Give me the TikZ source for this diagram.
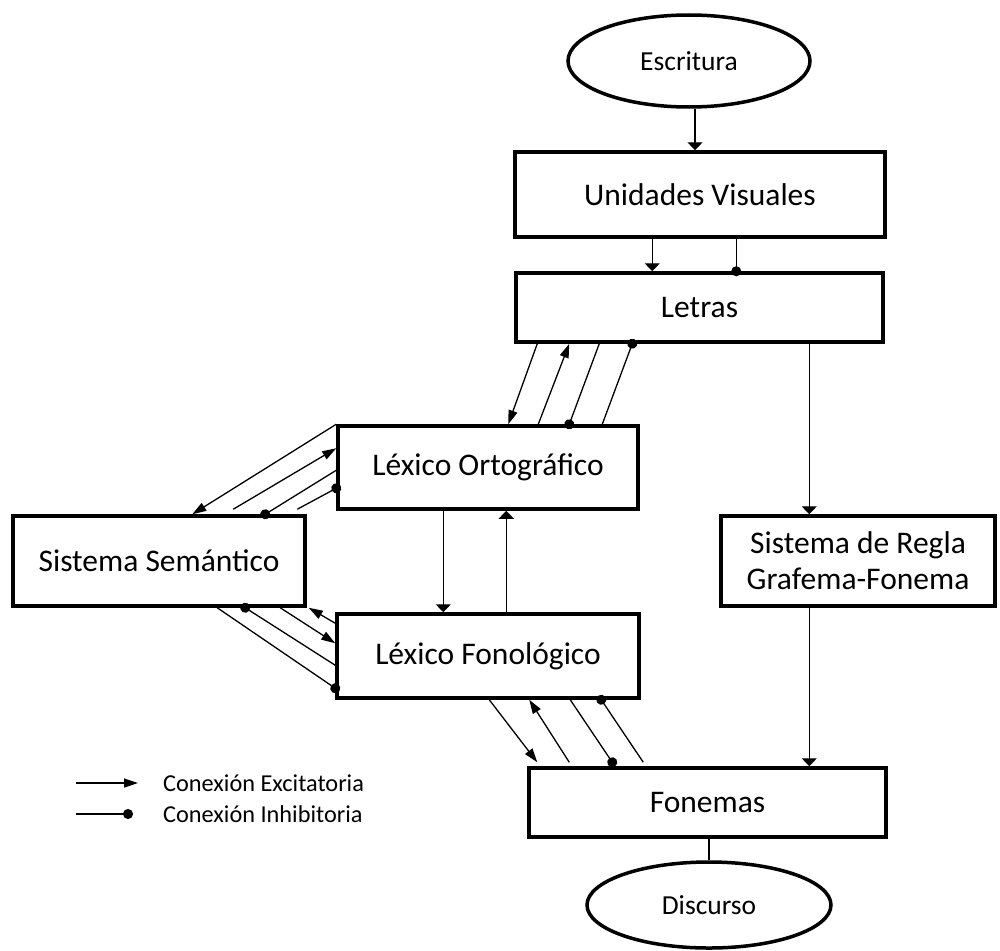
\documentclass[tikz,border=0pt]{standalone}
\usepackage{fontspec}
\setmainfont{Carlito}
\usetikzlibrary{arrows.meta,shapes.geometric,calc}

\begin{document}
\begin{tikzpicture}[x=1pt,y=-1pt,
  box/.style={draw, line width=3.5pt, rectangle, inner sep=0pt, align=center,
    font=\fontsize{31.5}{36}\selectfont},
  oval/.style={draw, line width=3.5pt, ellipse, inner sep=0pt,
    font=\fontsize{27.5}{31}\selectfont},
  link/.style={line width=1.3pt},
  exc/.style={link, -{Triangle[length=14pt,width=9pt]}},
  excv/.style={link, -{Triangle[length=8pt,width=15pt]}},
  inh/.style={link, -{Circle[length=10pt]}, shorten >=-5pt},
  legend/.style={anchor=west, inner sep=0pt, font=\fontsize{24.3}{28}\selectfont}
]
\useasboundingbox (0,0) rectangle (1000,950);

% processing stages
\node[oval, minimum width=242pt, minimum height=92pt] (escr) at (689,61) {Escritura};
\node[box, minimum width=370pt, minimum height=85pt] (uv) at (700,194.5) {Unidades Visuales};
\node[box, minimum width=367pt, minimum height=69pt] (let) at (699.5,307.5) {Letras};
\node[box, minimum width=300pt, minimum height=83pt] (lo) at (488,467.5) {Léxico Ortográfico};
\node[box, minimum width=302pt, minimum height=84pt] (lf) at (488,656) {Léxico Fonológico};
\node[box, minimum width=292pt, minimum height=90pt] (sem) at (159,561) {Sistema Semántico};
\node[box, minimum width=274pt, minimum height=90pt] (reg) at (858,561) {Sistema de Regla\\Grafema-Fonema};
\node[box, minimum width=357pt, minimum height=69pt] (fon) at (707.5,802.5) {Fonemas};
\node[oval, minimum width=244pt, minimum height=86pt] (disc) at (709,905) {Discurso};

% vertical pathways
\draw[excv] ($(escr.south)+(6,0)$) coordinate (e1) -- (e1 |- uv.north);
\draw[excv] ($(uv.south west)+(139,0)$) coordinate (u1) -- (u1 |- let.north);
\draw[inh] ($(uv.south west)+(223,0)$) coordinate (u2) -- (u2 |- let.north);
\draw[excv] ($(let.south west)+(295,0)$) coordinate (r1) -- (r1 |- reg.north);
\draw[excv] (r1 |- reg.south) -- (r1 |- fon.north);
\draw[link] (disc.north |- fon.south) -- (disc.north);
\draw[excv] ($(lo.south west)+(107,0)$) coordinate (v1) -- (v1 |- lf.north);
\draw[excv] ($(lf.north west)+(171,0)$) coordinate (v2) -- (v2 |- lo.south);

% letters <-> orthographic lexicon
\draw[exc] ($(let.south west)+(23,0)$) -- ($(lo.north west)+(172,0)$);
\draw[exc] ($(lo.north west)+(202,0)$) -- ($(let.south west)+(55,0)$);
\draw[inh] ($(let.south west)+(85,0)$) -- ($(lo.north west)+(233,0)$);
\draw[inh] ($(lo.north west)+(266,0)$) -- ($(let.south west)+(118,0)$);

% semantic system <-> orthographic lexicon
\draw[exc] (lo.north west) -- ($(sem.north west)+(181,0)$);
\draw[exc] ($(sem.north west)+(222,-5)$) -- ($(lo.north west)+(0,24)$);
\draw[inh] ($(lo.north west)+(0,46)$) -- ($(sem.north west)+(254,0)$);
\draw[inh] ($(sem.north west)+(286,-5)$) -- ($(lo.north west)+(0,64)$);

% semantic system <-> phonological lexicon
\draw[inh] ($(sem.south west)+(206,0)$) -- ($(lf.north west)+(0,76)$);
\draw[inh] ($(lf.north west)+(0,53)$) -- ($(sem.south west)+(234,0)$);
\draw[exc] ($(sem.south west)+(269,0)$) -- ($(lf.north west)+(0,31)$);
\draw[exc] ($(lf.north west)+(0,11)$) -- ($(sem.south east)+(2,0)$);

% phonological lexicon <-> phonemes
\draw[exc] ($(lf.south west)+(154,0)$) -- ($(fon.north west)+(10,-4)$);
\draw[exc] ($(fon.north west)+(42,-4)$) -- ($(lf.south west)+(194,0)$);
\draw[inh] ($(lf.south west)+(235,0)$) -- ($(fon.north west)+(85,-4)$);
\draw[inh] ($(fon.north west)+(116,-4)$) -- ($(lf.south west)+(266,0)$);

% legend
\node[legend] (lgE) at (163,783) {Conexión Excitatoria};
\node[legend] (lgI) at (163,814) {Conexión Inhibitoria};
\draw[exc] ($(lgE.west)+(-87,0)$) -- ($(lgE.west)+(-25,0)$);
\draw[inh] ($(lgI.west)+(-87,0)$) -- ($(lgI.west)+(-35,0)$);
\end{tikzpicture}
\end{document}
